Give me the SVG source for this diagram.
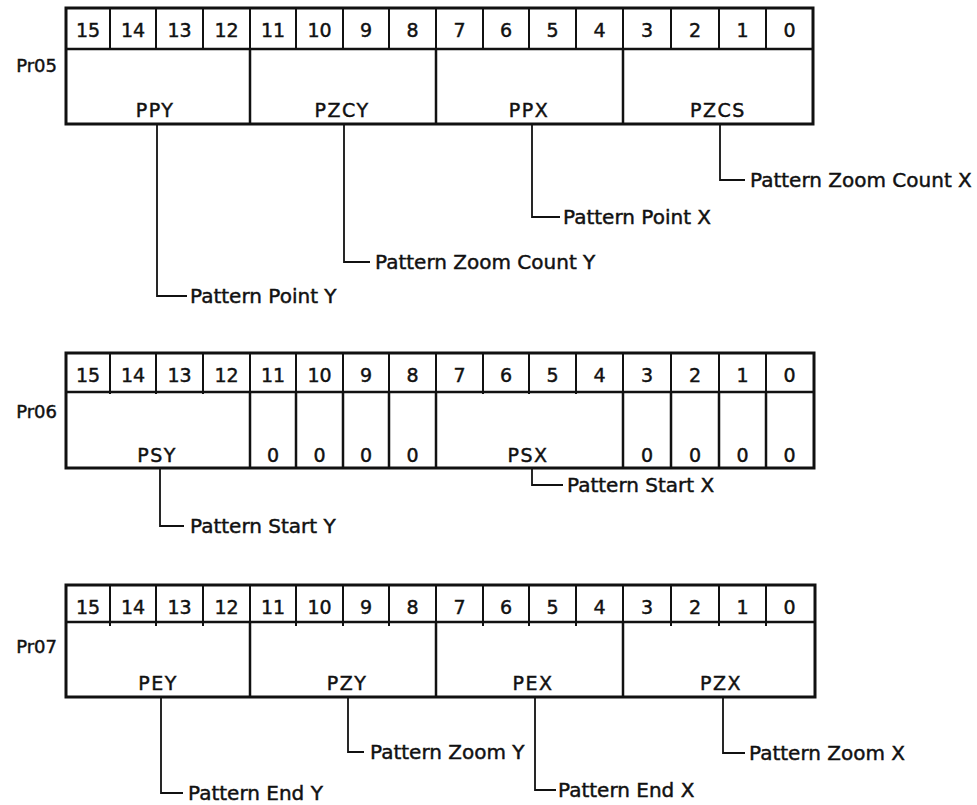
<svg xmlns="http://www.w3.org/2000/svg" width="977" height="805" viewBox="0 0 977 805">
<style>
.frame{fill:#fff;stroke:#111;stroke-width:3}
.hd{stroke:#111;stroke-width:2.5;fill:none}
.dv{stroke:#111;stroke-width:2;fill:none}
.conn{stroke:#111;stroke-width:1.8;fill:none}
text{font-family:"DejaVu Sans","Liberation Sans",sans-serif;fill:#111;stroke:#111;stroke-width:0.45}
.num{font-size:19px;text-anchor:middle}
.fld{font-size:19px;text-anchor:middle;letter-spacing:1.5px}
.reg{font-size:18px;text-anchor:end}
.lbl{font-size:20px}
</style>
<rect width="977" height="805" fill="#fff"/>
<defs>
<g id="hdr">
<path class="dv" d="M110 0V41M156 0V41M203 0V41M250 0V41M296 0V41M343 0V41M389 0V41M436 0V41M483 0V41M529 0V41M576 0V41M623 0V41M671 0V41M719 0V41M766 0V41"/>
<text class="num" x="88" y="29">15</text>
<text class="num" x="133" y="29">14</text>
<text class="num" x="179.5" y="29">13</text>
<text class="num" x="226.5" y="29">12</text>
<text class="num" x="273" y="29">11</text>
<text class="num" x="319.5" y="29">10</text>
<text class="num" x="366" y="29">9</text>
<text class="num" x="412.5" y="29">8</text>
<text class="num" x="459.5" y="29">7</text>
<text class="num" x="506" y="29">6</text>
<text class="num" x="552.5" y="29">5</text>
<text class="num" x="599.5" y="29">4</text>
<text class="num" x="647" y="29">3</text>
<text class="num" x="695" y="29">2</text>
<text class="num" x="742.5" y="29">1</text>
<text class="num" x="789.5" y="29">0</text>
</g>
</defs>

<g id="pr05">
<rect class="frame" x="66" y="8" width="747" height="116"/>
<use href="#hdr" x="0" y="8"/>
<path class="hd" d="M66 49H813M250 49V124M436 49V124M623 49V124"/>
<text class="reg" x="57" y="72">Pr05</text>
<text class="fld" x="155" y="117">PPY</text>
<text class="fld" x="342" y="117">PZCY</text>
<text class="fld" x="529" y="117">PPX</text>
<text class="fld" x="718" y="117">PZCS</text>
</g>

<g id="pr06">
<rect class="frame" x="66" y="353" width="748" height="115"/>
<use href="#hdr" x="0" y="353"/>
<path class="hd" d="M66 392H814M250 392V468M296 392V468M343 392V468M389 392V468M436 392V468M623 392V468M671 392V468M719 392V468M766 392V468"/>
<text class="reg" x="57" y="418">Pr06</text>
<text class="fld" x="157" y="462">PSY</text>
<text class="num" x="273" y="462">0</text>
<text class="num" x="319.5" y="462">0</text>
<text class="num" x="366" y="462">0</text>
<text class="num" x="412.5" y="462">0</text>
<text class="fld" x="528" y="462">PSX</text>
<text class="num" x="647" y="462">0</text>
<text class="num" x="695" y="462">0</text>
<text class="num" x="742.5" y="462">0</text>
<text class="num" x="789.5" y="462">0</text>
</g>

<g id="pr07">
<rect class="frame" x="66" y="585" width="749" height="112"/>
<use href="#hdr" x="0" y="585"/>
<path class="hd" d="M66 622H815M250 622V697M436 622V697M623 622V697"/>
<text class="reg" x="57" y="653">Pr07</text>
<text class="fld" x="158" y="690">PEY</text>
<text class="fld" x="347" y="690">PZY</text>
<text class="fld" x="533" y="690">PEX</text>
<text class="fld" x="721" y="690">PZX</text>
</g>

<g id="connectors">
<path class="conn" d="M157 125V296H187"/>
<path class="conn" d="M344 125V262H370"/>
<path class="conn" d="M532 125V217H560"/>
<path class="conn" d="M720 125V180H745"/>
<path class="conn" d="M160 469V526H184"/>
<path class="conn" d="M532 469V485H563"/>
<path class="conn" d="M161 698V793H183"/>
<path class="conn" d="M348 698V752H364"/>
<path class="conn" d="M535 698V790H556"/>
<path class="conn" d="M723 698V753H745"/>
</g>

<g id="labels">
<text class="lbl" x="190" y="303">Pattern Point Y</text>
<text class="lbl" x="375" y="269">Pattern Zoom Count Y</text>
<text class="lbl" x="563" y="224">Pattern Point X</text>
<text class="lbl" x="750" y="187">Pattern Zoom Count X</text>
<text class="lbl" x="190" y="533">Pattern Start Y</text>
<text class="lbl" x="567" y="492">Pattern Start X</text>
<text class="lbl" x="188" y="800">Pattern End Y</text>
<text class="lbl" x="370" y="759">Pattern Zoom Y</text>
<text class="lbl" x="558" y="797">Pattern End X</text>
<text class="lbl" x="749" y="760">Pattern Zoom X</text>
</g>
</svg>
